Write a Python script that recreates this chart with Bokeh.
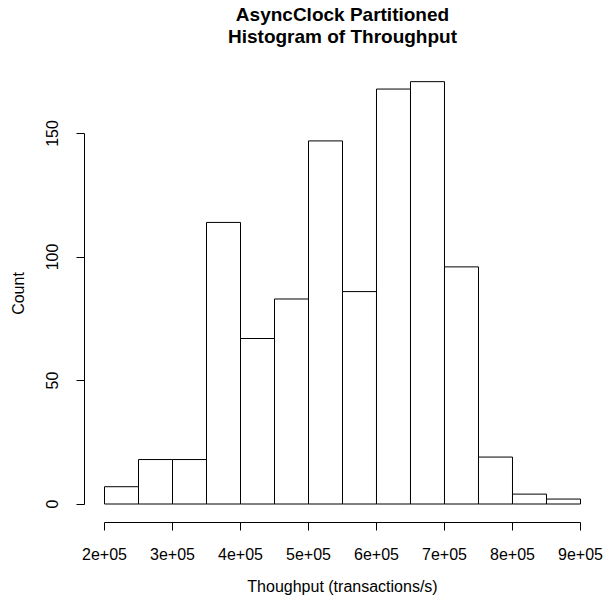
import math
from bokeh.plotting import figure
from bokeh.models import Range1d, LinearAxis, FixedTicker, Label, ColumnDataSource
from bokeh.embed import file_html
from bokeh.resources import INLINE

# ---- data ----
bin_left = [200000, 250000, 300000, 350000, 400000, 450000, 500000,
            550000, 600000, 650000, 700000, 750000, 800000, 850000]
bin_right = [250000, 300000, 350000, 400000, 450000, 500000, 550000,
             600000, 650000, 700000, 750000, 800000, 850000, 900000]
counts = [7, 18, 18, 114, 67, 83, 147, 86, 168, 171, 96, 19, 4, 2]

x_ticks = [200000, 300000, 400000, 500000, 600000, 700000, 800000, 900000]
x_tick_labels = ["2e+05", "3e+05", "4e+05", "5e+05", "6e+05", "7e+05", "8e+05", "9e+05"]
y_ticks = [0, 50, 100, 150]
y_tick_labels = ["0", "50", "100", "150"]

title_lines = ["AsyncClock Partitioned", "Histogram of Throughput"]
x_label = "Thoughput (transactions/s)"
y_label = "Count"

FONT = "Liberation Sans"

x0, x1 = 170588, 929412
y0, y1 = -7.49, 177.94

p = figure(width=603, height=598, output_backend="svg", toolbar_location=None,
           x_range=Range1d(x0, x1), y_range=Range1d(y0, y1),
           x_axis_location=None, y_axis_location=None,
           min_border_left=84, min_border_right=3,
           min_border_top=64, min_border_bottom=76)
p.outline_line_color = None
p.grid.visible = False
p.background_fill_color = "white"
p.border_fill_color = "white"

src = ColumnDataSource(dict(left=bin_left, right=bin_right, top=counts,
                            bottom=[0] * len(counts)))
p.quad(left="left", right="right", top="top", bottom="bottom", source=src,
       fill_color="white", line_color="black", line_width=1)

def style_axis(ax):
    ax.axis_line_color = "black"
    ax.axis_line_width = 1
    ax.major_tick_line_color = "black"
    ax.major_tick_line_width = 1
    ax.major_tick_out = 8
    ax.major_tick_in = 0
    ax.minor_tick_line_color = None
    ax.major_label_text_font = FONT
    ax.major_label_text_font_size = "16px"
    ax.major_label_text_color = "black"
    ax.axis_label_text_font = FONT
    ax.axis_label_text_font_size = "16px"
    ax.axis_label_text_font_style = "normal"
    ax.axis_label_text_color = "black"

xaxis = LinearAxis(ticker=FixedTicker(ticks=x_ticks),
                   major_label_overrides={t: l for t, l in zip(x_ticks, x_tick_labels)},
                   bounds=(x_ticks[0], x_ticks[-1]), axis_label=x_label)
style_axis(xaxis)
xaxis.major_label_standoff = 17
xaxis.axis_label_standoff = 15
p.add_layout(xaxis, "below")

yaxis = LinearAxis(ticker=FixedTicker(ticks=y_ticks),
                   major_label_overrides={t: l for t, l in zip(y_ticks, y_tick_labels)},
                   bounds=(y_ticks[0], y_ticks[-1]), axis_label=y_label)
style_axis(yaxis)
yaxis.major_label_orientation = "vertical"
yaxis.major_label_standoff = 18
yaxis.axis_label_standoff = 17
p.add_layout(yaxis, "left")

xc = (x0 + x1) / 2
for line, off in zip(title_lines, [50, 28.5]):
    p.add_layout(Label(x=xc, y=y1, y_offset=off, text=line, text_align="center",
                       text_baseline="alphabetic", text_font=FONT, text_font_size="19px",
                       text_font_style="bold", text_color="black"), "above")

open("out.html", "w").write(file_html(p, INLINE))
